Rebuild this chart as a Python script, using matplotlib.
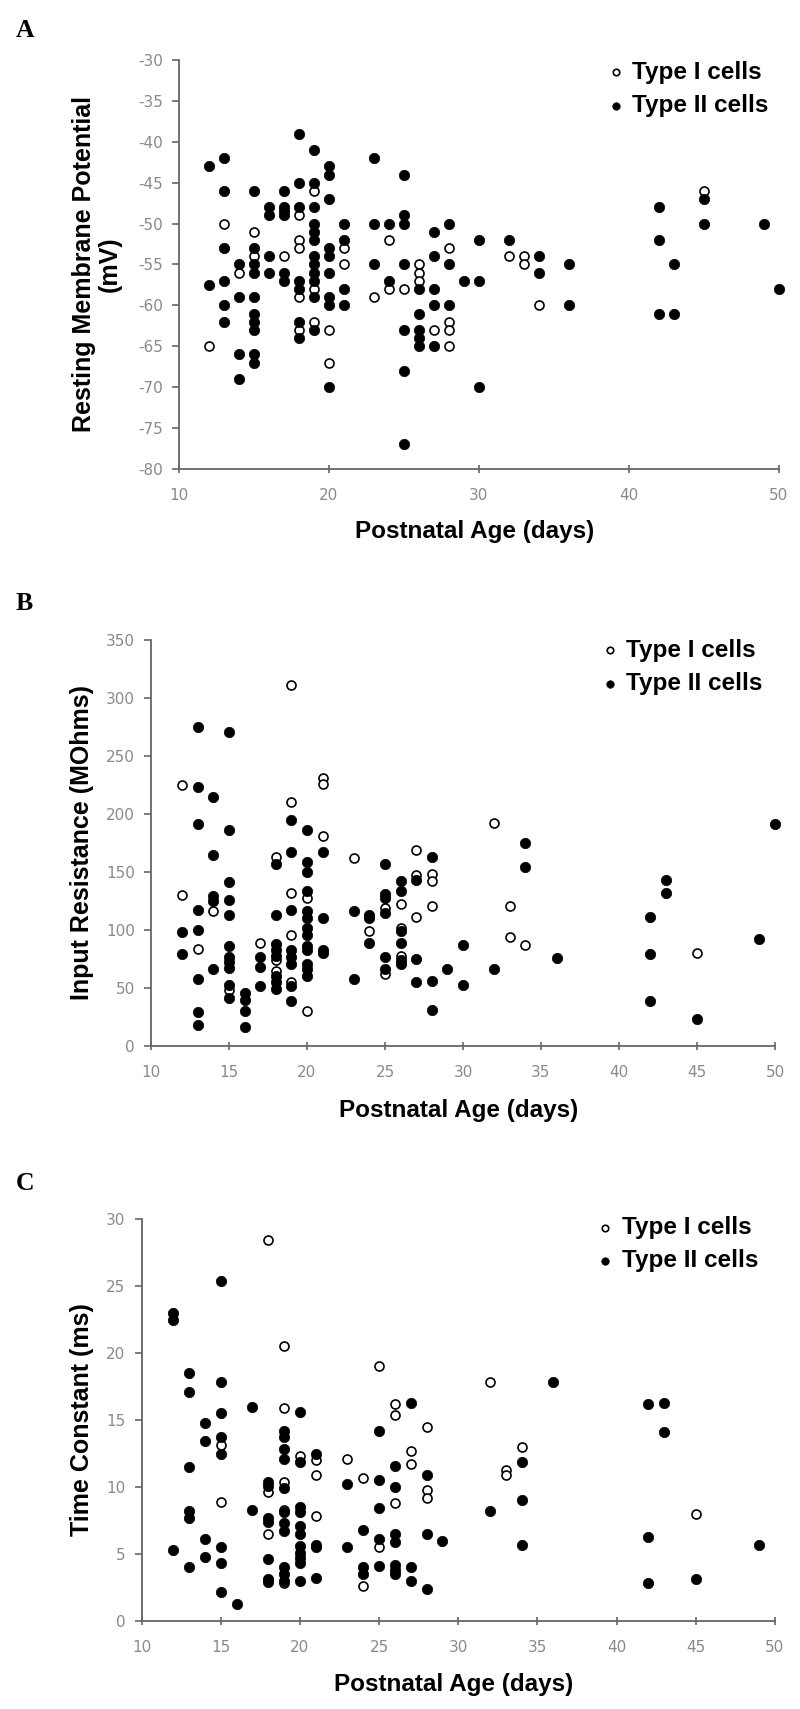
import matplotlib
matplotlib.use('Agg')
import matplotlib.pyplot as plt
from matplotlib.ticker import MultipleLocator

plt.rcParams['axes.unicode_minus'] = False

# ---- Panel A: resting membrane potential (mV) ----
a_age_t1 = [12, 13, 14, 15, 15, 17, 18, 18, 18, 18, 18, 19, 19, 19, 20, 20, 21, 21,
            23, 24, 24, 25, 26, 26, 26, 27, 28, 28, 28, 28, 32, 33, 33, 34, 45]
a_rmp_t1 = [-65, -50, -56, -51, -54, -54, -49, -52, -53, -59, -63, -46, -58, -62, -63, -67, -53, -55,
            -59, -52, -58, -58, -55, -56, -57, -63, -53, -62, -63, -65, -54, -54, -55, -60, -46]

a_age_t2 = [12, 12,
            13, 13, 13, 13, 13, 13,
            14, 14, 14, 14,
            15, 15, 15, 15, 15, 15, 15, 15, 15, 15,
            16, 16, 16, 16,
            17, 17, 17, 17, 17, 17,
            18, 18, 18, 18, 18, 18, 18,
            19, 19, 19, 19, 19, 19, 19, 19, 19, 19, 19, 19,
            20, 20, 20, 20, 20, 20, 20, 20, 20,
            21, 21, 21, 21,
            23, 23, 23,
            24, 24,
            25, 25, 25, 25, 25, 25, 25,
            26, 26, 26, 26, 26,
            27, 27, 27, 27, 27,
            28, 28, 28,
            29,
            30, 30, 30,
            32,
            34, 34,
            36, 36,
            42, 42, 42,
            43, 43,
            45, 45,
            49,
            50]
a_rmp_t2 = [-43, -57.5,
            -42, -46, -53, -57, -60, -62,
            -55, -59, -66, -69,
            -46, -53, -55, -56, -59, -61, -62, -63, -66, -67,
            -48, -49, -54, -56,
            -46, -48, -48.5, -49, -56, -57,
            -39, -45, -48, -57, -58, -62, -64,
            -41, -45, -48, -50, -51, -52, -54, -55, -56, -57, -59, -63,
            -43, -44, -47, -53, -54, -56, -59, -60, -70,
            -50, -52, -58, -60,
            -42, -50, -55,
            -50, -57,
            -44, -49, -50, -55, -63, -68, -77,
            -58, -61, -63, -64, -65,
            -51, -54, -58, -60, -65,
            -50, -55, -60,
            -57,
            -52, -57, -70,
            -52,
            -54, -56,
            -55, -60,
            -48, -52, -61,
            -55, -61,
            -47, -50,
            -50,
            -58]

# ---- Panel B: input resistance (MOhms) ----
b_age_t1 = [12, 12, 13, 14, 15, 17, 18, 18, 18, 19, 19, 19, 19, 19, 20, 20, 21, 21, 21,
            23, 24, 25, 25, 26, 26, 26, 27, 27, 27, 28, 28, 28, 32, 33, 33, 34, 45]
b_res_t1 = [225, 130, 84, 116, 48, 89, 163, 74, 65, 311, 210, 132, 96, 55, 128, 30, 231, 226, 181,
            162, 99, 119, 62, 122, 102, 78, 169, 147, 111, 148, 142, 121, 192, 121, 94, 87, 80]

b_age_t2 = [12, 12,
            13, 13, 13, 13, 13, 13, 13, 13,
            14, 14, 14, 14, 14,
            15, 15, 15, 15, 15, 15, 15, 15, 15, 15, 15,
            16, 16, 16, 16,
            17, 17, 17,
            18, 18, 18, 18, 18, 18, 18, 18,
            19, 19, 19, 19, 19, 19, 19, 19,
            20, 20, 20, 20, 20, 20, 20, 20, 20, 20, 20, 20, 20,
            21, 21, 21, 21,
            23, 23,
            24, 24, 24,
            25, 25, 25, 25, 25, 25,
            26, 26, 26, 26, 26, 26,
            27, 27, 27,
            28, 28, 28,
            29,
            30, 30,
            32,
            34, 34,
            36,
            42, 42, 42,
            43, 43,
            45,
            49,
            50]
b_res_t2 = [98, 79,
            275, 223, 191, 117, 100, 58, 29, 18,
            215, 165, 129, 125, 66,
            271, 186, 141, 126, 113, 86, 77, 72, 67, 53, 41,
            46, 40, 30, 16,
            77, 68, 52,
            157, 113, 88, 83, 78, 60, 55, 49,
            195, 167, 117, 83, 77, 71, 52, 39,
            186, 159, 150, 134, 116, 110, 102, 96, 86, 83, 71, 66, 60,
            167, 110, 83, 80,
            116, 58,
            113, 110, 89,
            157, 131, 128, 115, 77, 66,
            142, 134, 99, 89, 74, 71,
            143, 75, 55,
            163, 56, 31,
            66,
            87, 53,
            66,
            175, 154,
            76,
            111, 79, 39,
            143, 132,
            23,
            92,
            191]

# ---- Panel C: time constant (ms) ----
c_age_t1 = [15, 15, 18, 18, 18, 19, 19, 19, 19, 19, 20, 21, 21, 21, 23, 24, 24, 25, 25,
            26, 26, 26, 27, 27, 28, 28, 28, 32, 33, 33, 34, 45]
c_tau_t1 = [13.1, 8.9, 28.4, 9.6, 6.5, 20.5, 15.9, 10.4, 8.3, 2.8, 12.3, 12.0, 10.9, 7.8, 12.1, 10.7, 2.6, 19.0, 5.5,
            16.2, 15.4, 8.8, 12.7, 11.7, 14.5, 9.8, 9.2, 17.8, 11.3, 10.9, 13.0, 8.0]

c_age_t2 = [12, 12, 12,
            13, 13, 13, 13, 13, 13,
            14, 14, 14, 14,
            15, 15, 15, 15, 15, 15, 15, 15,
            16,
            17, 17,
            18, 18, 18, 18, 18, 18, 18,
            19, 19, 19, 19, 19, 19, 19, 19, 19, 19, 19,
            20, 20, 20, 20, 20, 20, 20, 20, 20, 20, 20,
            21, 21, 21, 21,
            23, 23,
            24, 24, 24,
            25, 25, 25, 25, 25,
            26, 26, 26, 26, 26, 26, 26,
            27, 27, 27,
            28, 28, 28,
            29,
            32,
            34, 34, 34,
            36,
            42, 42, 42,
            43, 43,
            45,
            49]
c_tau_t2 = [23.0, 22.5, 5.3,
            18.5, 17.1, 11.5, 8.2, 7.7, 4.0,
            14.8, 13.4, 6.1, 4.8,
            25.4, 17.8, 15.5, 13.7, 12.5, 5.5, 4.3, 2.2,
            1.3,
            16.0, 8.3,
            10.4, 10.1, 7.7, 7.4, 4.6, 3.1, 2.9,
            14.2, 13.7, 12.8, 12.1, 9.9, 8.1, 7.3, 6.7, 4.0, 3.5, 3.0,
            15.6, 11.9, 8.5, 8.1, 7.1, 6.5, 5.6, 5.1, 4.7, 4.3, 3.0,
            12.5, 5.7, 5.5, 3.2,
            10.2, 5.5,
            6.8, 4.0, 3.5,
            14.2, 10.5, 8.4, 6.1, 4.1,
            11.6, 10.0, 6.5, 5.9, 4.2, 3.8, 3.5,
            16.3, 4.0, 3.0,
            10.9, 6.5, 2.4,
            6.0,
            8.2,
            11.9, 9.0, 5.7,
            17.8,
            16.2, 6.3, 2.8,
            16.3, 14.1,
            3.1,
            5.7]

W, H = 800, 1709
LABEL_FONT = 'Liberation Sans'
SPINE = '#666666'
TICKCOL = '#8a8a8a'

fig = plt.figure(figsize=(W / 100, H / 100), dpi=100)
fig.patch.set_facecolor('white')


def px_axes(left, top, right, bottom):
    return fig.add_axes([left / W, 1 - bottom / H, (right - left) / W, (bottom - top) / H])


def style(ax, ylabel, ylab_x, leg_x, leg_y):
    for side in ('top', 'right'):
        ax.spines[side].set_visible(False)
    for side in ('left', 'bottom'):
        ax.spines[side].set_color(SPINE)
        ax.spines[side].set_linewidth(1.3)
    ax.tick_params(axis='y', direction='out', length=5, width=1.2, color=SPINE,
                   labelcolor=TICKCOL, labelsize=11, pad=6.5)
    ax.tick_params(axis='x', direction='inout', length=6, width=1.2, color=SPINE,
                   labelcolor=TICKCOL, labelsize=11, pad=10.5)
    ax.set_xlabel('Postnatal Age (days)', fontsize=17.5, fontweight='bold',
                  family=LABEL_FONT, va='center')
    ax.set_ylabel(ylabel, fontsize=18, fontweight='bold', family=LABEL_FONT,
                  va='center', ha='center', linespacing=1.05)
    ax.yaxis.set_label_coords(ylab_x, 0.5)
    ax.legend(loc='upper left', bbox_to_anchor=(leg_x, leg_y), frameon=False,
              borderpad=0, borderaxespad=0, handlelength=0.7, handletextpad=0.31,
              labelspacing=0.42, markerscale=0.72,
              prop={'family': LABEL_FONT, 'weight': 'bold', 'size': 17.5})


def points(ax, x1, y1, x2, y2):
    ax.scatter(x1, y1, s=42, facecolors='white', edgecolors='black', linewidths=1.2,
               zorder=3, label='Type I cells', clip_on=False)
    ax.scatter(x2, y2, s=56, c='black', edgecolors='black', linewidths=0.5,
               zorder=4, label='Type II cells', clip_on=False)


# Panel A
axA = px_axes(179, 60, 779, 469)
points(axA, a_age_t1, a_rmp_t1, a_age_t2, a_rmp_t2)
axA.set_xlim(10, 50)
axA.set_ylim(-80, -30)
axA.xaxis.set_major_locator(MultipleLocator(10))
axA.yaxis.set_major_locator(MultipleLocator(5))
style(axA, 'Resting Membrane Potential\n(mV)', -0.137, 0.714, 0.998)
axA.xaxis.set_label_coords(0.493, -62.7 / 409)

# Panel B
axB = px_axes(151, 640, 775, 1046)
points(axB, b_age_t1, b_res_t1, b_age_t2, b_res_t2)
axB.set_xlim(10, 50)
axB.set_ylim(0, 350)
axB.xaxis.set_major_locator(MultipleLocator(5))
axB.yaxis.set_major_locator(MultipleLocator(50))
style(axB, 'Input Resistance (MOhms)', -0.1106, 0.722, 1.003)
axB.xaxis.set_label_coords(0.493, -64 / 406)

# Panel C
axC = px_axes(141.5, 1219, 775, 1621)
points(axC, c_age_t1, c_tau_t1, c_age_t2, c_tau_t2)
axC.set_xlim(10, 50)
axC.set_ylim(0, 30)
axC.xaxis.set_major_locator(MultipleLocator(5))
axC.yaxis.set_major_locator(MultipleLocator(5))
style(axC, 'Time Constant (ms)', -0.094, 0.719, 1.007)
axC.xaxis.set_label_coords(0.493, -63.3 / 402)

# panel letters
for letter, ycen in (('A', 30.5), ('B', 604), ('C', 1183)):
    fig.text(16 / W, 1 - ycen / H, letter, ha='left', va='center', fontsize=18.5,
             fontweight='bold', family='Liberation Serif')

fig.savefig('out.png', dpi=100, facecolor='white')
